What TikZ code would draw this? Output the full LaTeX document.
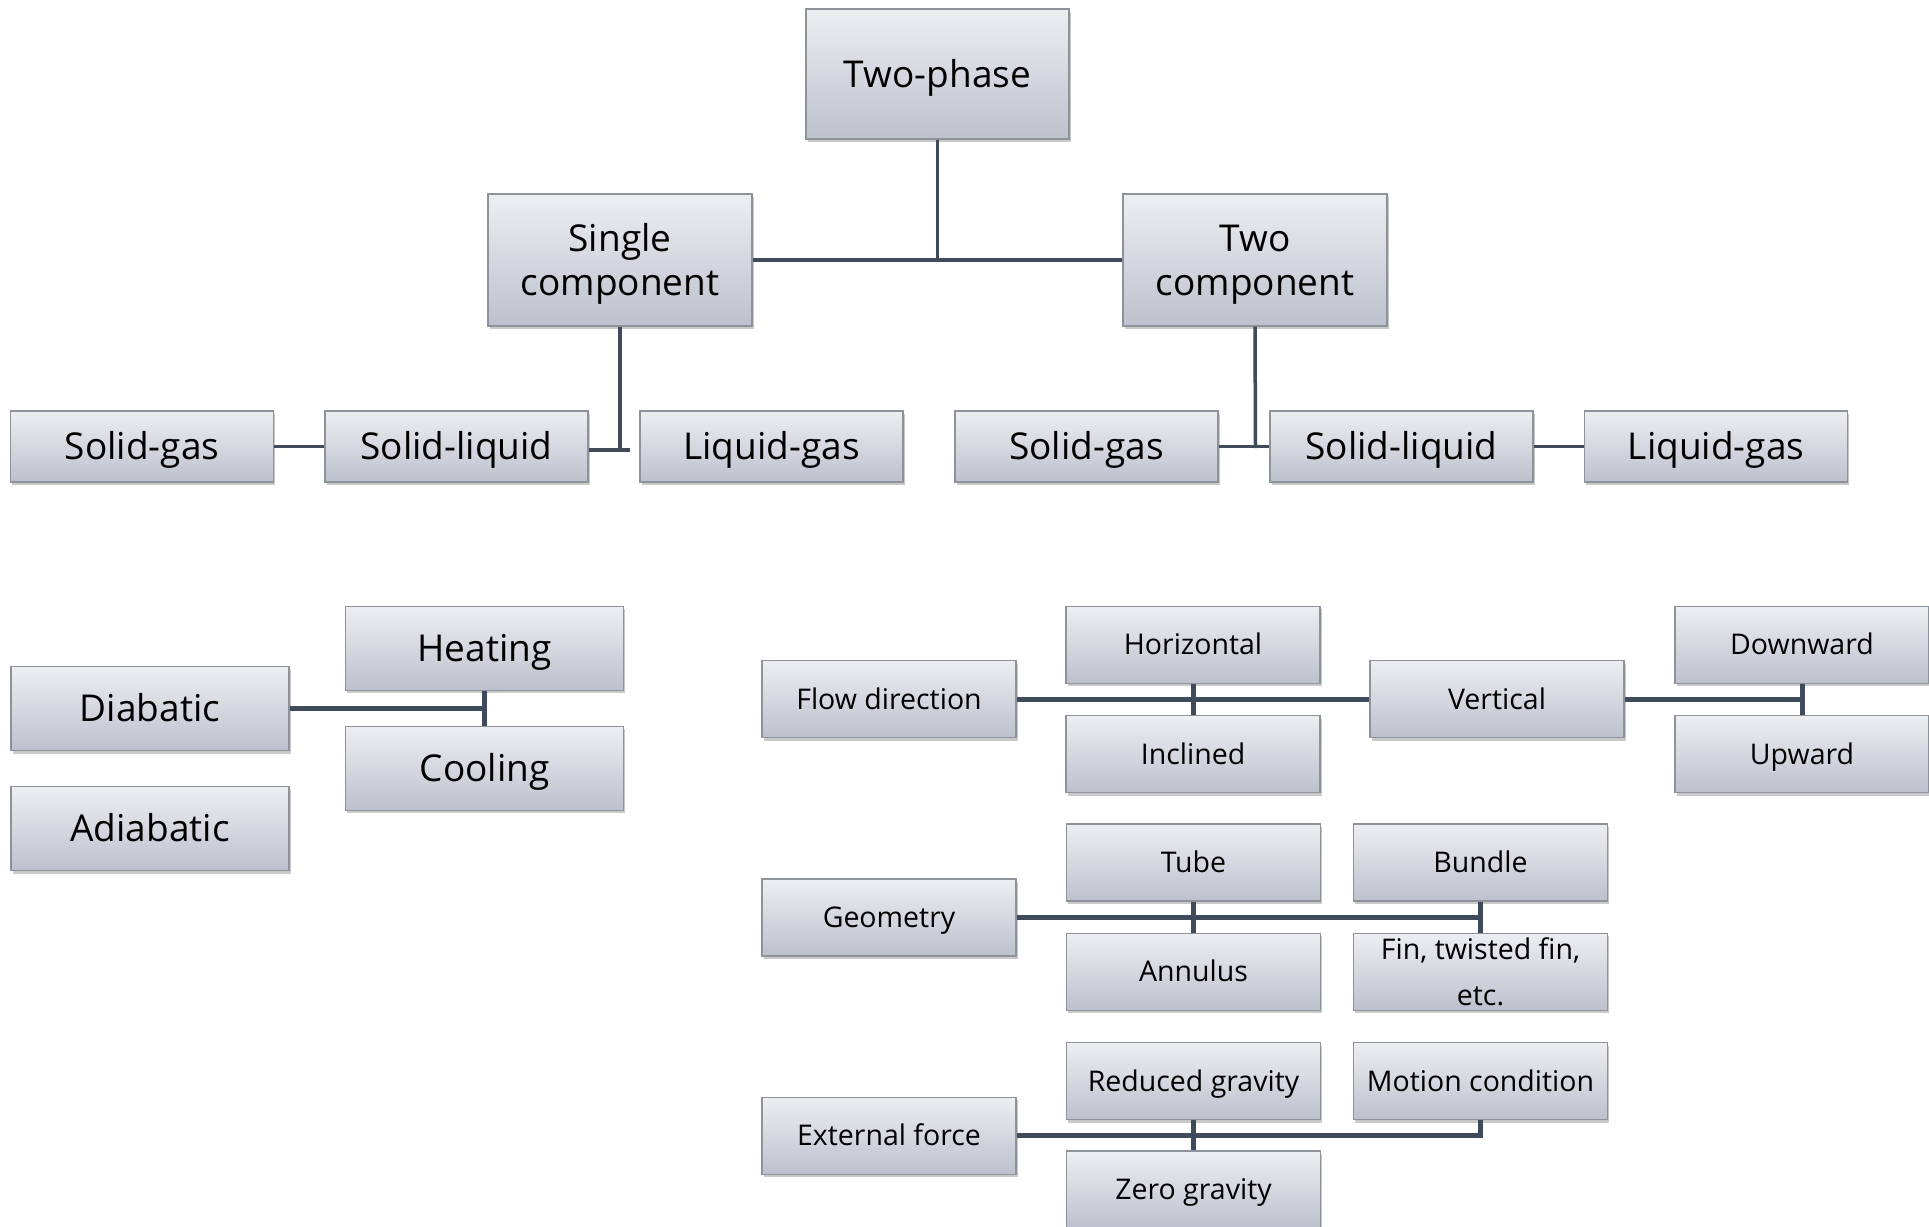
\documentclass[tikz,border=0pt]{standalone}
\usepackage{fontspec}
\setmainfont{Open Sans}
\usetikzlibrary{shadows}
\definecolor{boxtop}{HTML}{EDEEF1}
\definecolor{boxbot}{HTML}{BCC1CD}
\definecolor{boxline}{HTML}{8E929A}
\definecolor{lc}{HTML}{3F4A5A}
\tikzset{
  box/.style={draw=boxline, line width=1.3pt, top color=boxtop, bottom color=boxbot,
    drop shadow={shadow xshift=1.5pt, shadow yshift=-3pt, opacity=0.3, fill=black!70},
    inner sep=0pt, align=center, text=black},
  big/.style={box, font=\fontsize{37}{44}\selectfont, text height=35pt, text depth=9pt},
  small/.style={box, font=\fontsize{28.5}{46}\selectfont, minimum width=254pt, minimum height=77pt,
    text height=27pt, text depth=7pt},
  multi/.style={text height=, text depth=},
  mid/.style={big, minimum width=278pt, minimum height=84pt},
  row/.style={big, minimum width=263pt, minimum height=71pt},
  thin/.style={draw=lc, line width=3.5pt},
  thick/.style={draw=lc, line width=5pt},
}
\begin{document}
\begin{tikzpicture}[x=1pt,y=-1pt]
\useasboundingbox (0,0) rectangle (1929,1226);
% top hierarchy
\node[big, minimum width=263pt, minimum height=130pt] (tp) at (937.5,74) {Two-phase};
\node[big, multi, minimum width=264pt, minimum height=132pt] (sc) at (620,260) {\rule{0pt}{36pt}Single\\component};
\node[big, multi, minimum width=264pt, minimum height=132pt] (tc) at (1255,260) {\rule{0pt}{36pt}Two\\component};
\node[row] (sg1) at (142,446.5) {Solid-gas};
\node[row] (sl1) at (456.5,446.5) {Solid-liquid};
\node[row] (lg1) at (771.5,446.5) {Liquid-gas};
\node[row] (sg2) at (1086.5,446.5) {Solid-gas};
\node[row] (sl2) at (1401.5,446.5) {Solid-liquid};
\node[row] (lg2) at (1716,446.5) {Liquid-gas};
\coordinate (j1) at (620,450);
\coordinate (j1s) at (630,450);
\coordinate (j2) at (1255.5,448);
\draw[thin] (tp.south) -- (tp.south |- sc.east);
\draw[thin] (sc.east) -- (tc.west);
\draw[thin] (sc.south) -- (j1);
\draw[thin] (sl1.east |- j1) -- (j1s);
\draw[thin] (sg1.east) -- (sl1.west);
\draw[thin] (tc.south) -- (j2);
\draw[thin] (sg2.east) -- (sl2.west);
\draw[thin] (sl2.east) -- (lg2.west);
% heat transfer
\node[mid] (heat) at (484.7,648.3) {Heating};
\node[mid] (dia) at (150,708.5) {Diabatic};
\node[mid] (cool) at (484.7,768.2) {Cooling};
\node[mid] (adia) at (150,828.5) {Adiabatic};
\draw[thick] (dia.east) -- (dia.east -| heat.south);
\draw[thick] (heat.south) -- (cool.north);
% flow direction
\node[small] (flow) at (889,699) {Flow direction};
\node[small] (hor) at (1193,644.7) {Horizontal};
\node[small] (inc) at (1193,754) {Inclined};
\node[small] (vert) at (1497,699) {Vertical};
\node[small] (down) at (1802,644.7) {Downward};
\node[small] (up) at (1802,754) {Upward};
\draw[thick] (flow.east) -- (vert.west);
\draw[thick] (hor.south) -- (inc.north);
\draw[thick] (vert.east) -- (vert.east -| down.south);
\draw[thick] (down.south) -- (up.north);
% geometry
\node[small] (geo) at (889,917.5) {Geometry};
\node[small] (tube) at (1193.5,862.5) {Tube};
\node[small] (bund) at (1480.5,862.5) {Bundle};
\node[small] (ann) at (1193.5,971.7) {Annulus};
\node[small, multi] (fin) at (1480.5,971.7) {Fin, twisted fin,\\etc.};
\draw[thick] (geo.east) -- (geo.east -| bund.south);
\draw[thick] (tube.south) -- (ann.north);
\draw[thick] (bund.south) -- (fin.north);
% external force
\node[small] (ext) at (889,1135.7) {External force};
\node[small] (red) at (1193.5,1081) {Reduced gravity};
\node[small] (mot) at (1480.5,1081) {Motion condition};
\node[small] (zero) at (1193.5,1189.5) {Zero gravity};
\draw[thick] (ext.east) -- (ext.east -| mot.south) -- (mot.south);
\draw[thick] (red.south) -- (zero.north);
\end{tikzpicture}
\end{document}
